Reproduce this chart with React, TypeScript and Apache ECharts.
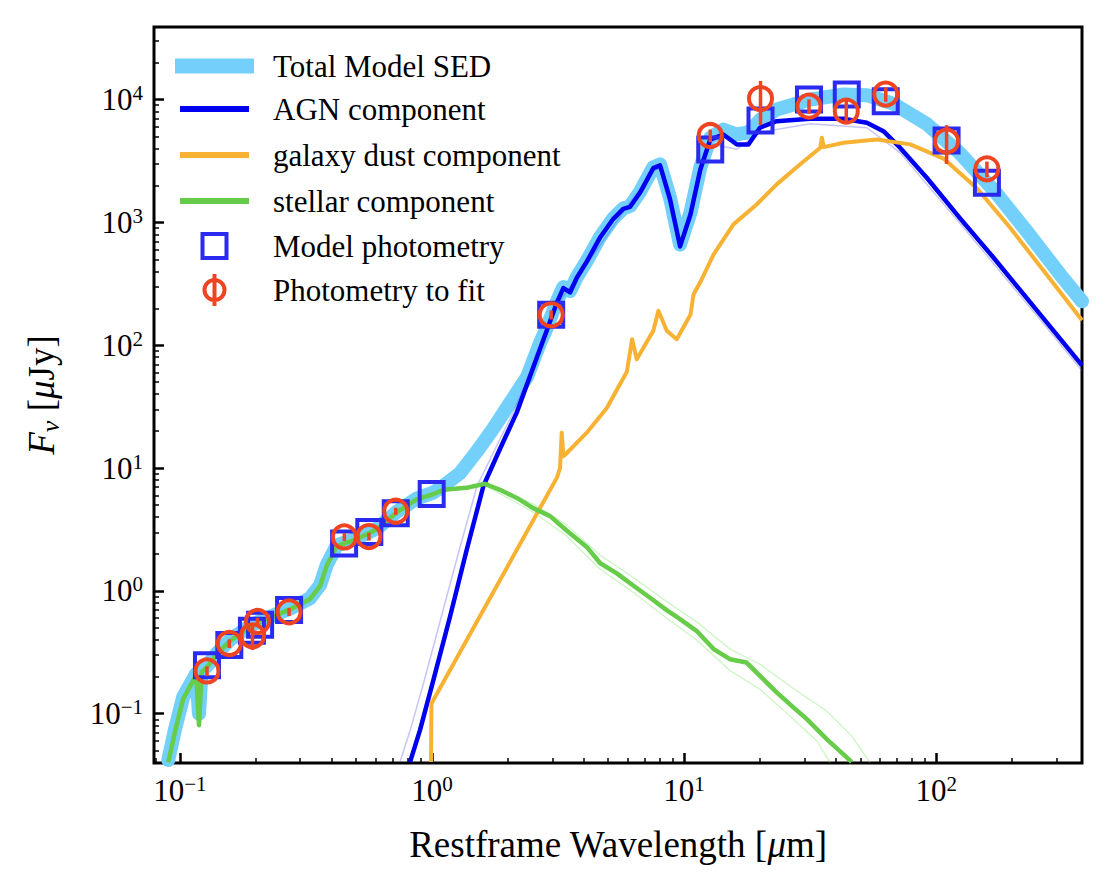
import React, { useEffect, useRef } from 'react';
import * as echarts from 'echarts';

const SERIF = '"Liberation Serif", "Times New Roman", Times, serif';

// ---- axis ranges (wavelength in μm, flux in μJy) ----
const xRange = [0.0789, 379];
const yRange = [0.0397, 39000];
const xMajor = [0.1, 1, 10, 100];
const yMajor = [0.1, 1, 10, 100, 1000, 10000];

// ---- Total model SED ----
const totalWl = [0.0899, 0.0955, 0.103, 0.108, 0.116, 0.119, 0.122, 0.129, 0.14, 0.158, 0.19, 0.221, 0.274, 0.328, 0.36, 0.382, 0.419, 0.502, 0.604, 0.724, 0.869, 1.01, 1.11, 1.29, 1.5, 1.75, 2.04, 2.38, 2.68, 2.85, 3.13, 3.32, 3.53, 3.75, 4.11, 4.65, 5.24, 5.74, 6.11, 6.69, 7.55, 8.03, 8.8, 9.64, 10.6, 11.6, 12.7, 14.3, 16.2, 18.0, 20.1, 23.3, 31.6, 42.9, 53.1, 67.8, 91.8, 124, 169, 229, 310, 379];
const totalF = [0.042, 0.074, 0.137, 0.163, 0.212, 0.1, 0.224, 0.25, 0.31, 0.4, 0.52, 0.6, 0.72, 0.87, 1.12, 1.62, 2.35, 2.68, 3.22, 4.4, 5.65, 6.3, 7.18, 9.07, 13.5, 21, 34, 55, 104, 138, 228, 298, 276, 358, 485, 765, 1080, 1300, 1360, 1780, 2820, 2970, 1580, 660, 1200, 2800, 4900, 5700, 5200, 5400, 6890, 8300, 10000, 11000, 10860, 9230, 6340, 3680, 1840, 845, 378, 228];

// ---- AGN component ----
const agnWl = [0.818, 0.896, 1.01, 1.18, 1.37, 1.6, 1.86, 2.17, 2.52, 2.85, 3.13, 3.32, 3.53, 3.75, 4.11, 4.65, 5.24, 5.74, 6.11, 6.69, 7.55, 8.03, 8.8, 9.64, 10.6, 11.6, 12.7, 14.3, 16.2, 18.0, 20.0, 23.3, 31.6, 42.9, 53.1, 61.8, 71.9, 91.8, 124, 169, 275, 379];
const agnF = [0.0404, 0.0736, 0.184, 0.622, 2.12, 7.18, 14.3, 28.4, 65.8, 131, 223, 292, 270, 353, 479, 758, 1070, 1290, 1340, 1750, 2770, 2910, 1540, 638, 1160, 2700, 4730, 5200, 4310, 4310, 5900, 6670, 6980, 6980, 6480, 5530, 4060, 2310, 1090, 516, 153, 68.6];
const agnFaintWl = [0.746, 0.82, 0.93, 1.09, 1.28, 1.51, 1.78, 2.1, 2.5, 2.85, 3.13, 4.11, 5.74, 7.55, 8.03, 9.64, 11.6, 12.7, 16.2, 20.0, 31.6, 53.1, 71.9, 124, 275, 379];
const agnFaintF = [0.0404, 0.0736, 0.184, 0.622, 2.12, 7.18, 14.3, 28.4, 65.8, 125, 212, 455, 1220, 2630, 2760, 600, 2500, 4350, 3950, 5400, 6350, 5900, 3700, 990, 139, 62];

// ---- galaxy dust component ----
const dustWl = [0.991, 0.995, 3.13, 3.22, 3.27, 3.32, 3.42, 4.11, 4.93, 5.93, 6.22, 6.49, 7.55, 7.91, 8.54, 9.35, 10.6, 10.9, 11.6, 13.1, 15.7, 19.4, 23.3, 28.8, 34.7, 35.2, 35.8, 42.9, 58.2, 78.9, 107, 145, 197, 267, 379];
const dustF = [0.0404, 0.121, 8.36, 10, 19.4, 12.5, 13.2, 19.4, 30.7, 60.8, 112, 76.8, 131, 191, 131, 112, 177, 259, 327, 549, 964, 1400, 2040, 2960, 4050, 4890, 4100, 4450, 4730, 4320, 3310, 1900, 900, 404, 160];

// ---- stellar component ----
const stellarWl = [0.0899, 0.0955, 0.103, 0.108, 0.116, 0.119, 0.122, 0.129, 0.14, 0.158, 0.19, 0.221, 0.274, 0.328, 0.36, 0.382, 0.419, 0.502, 0.604, 0.724, 0.869, 1.01, 1.11, 1.37, 1.62, 1.86, 2.17, 2.52, 2.94, 3.42, 4.11, 4.65, 5.41, 6.3, 7.33, 8.53, 9.64, 11.2, 13.1, 15.2, 17.7, 20.0, 23.3, 27.2, 30.7, 36.8, 46.2];
const stellarF = [0.0402, 0.0708, 0.132, 0.158, 0.206, 0.0807, 0.218, 0.244, 0.305, 0.392, 0.507, 0.589, 0.71, 0.857, 1.1, 1.6, 2.32, 2.64, 3.18, 4.35, 5.57, 6.12, 6.65, 6.9, 7.45, 6.65, 5.71, 4.72, 4.06, 3.1, 2.28, 1.68, 1.39, 1.1, 0.879, 0.697, 0.589, 0.473, 0.336, 0.278, 0.261, 0.203, 0.149, 0.112, 0.0904, 0.0621, 0.0406];
const stellarUpWl = [1.62, 2.52, 3.42, 4.65, 6.3, 8.53, 11.2, 15.2, 20.0, 27.2, 36.8, 46.2, 54.7];
const stellarUpF = [7.6, 5.1, 3.45, 1.95, 1.28, 0.82, 0.56, 0.336, 0.253, 0.16, 0.105, 0.066, 0.04];
const stellarLoWl = [1.62, 2.52, 3.42, 4.65, 6.3, 8.53, 11.2, 15.2, 20.0, 27.2, 33.6, 38.0];
const stellarLoF = [7.2, 4.4, 2.8, 1.5, 0.97, 0.6, 0.4, 0.225, 0.158, 0.09, 0.06, 0.04];

// ---- photometry ----
const modelWl = [0.128, 0.157, 0.193, 0.208, 0.271, 0.448, 0.564, 0.718, 0.997, 2.97, 12.7, 20.1, 31.3, 44.2, 63.1, 110, 159];
const modelF = [0.248, 0.362, 0.473, 0.529, 0.7, 2.43, 3.02, 4.29, 6.15, 177, 3930, 6760, 10000, 11000, 9700, 4650, 2100];
const photWl = [0.128, 0.157, 0.194, 0.203, 0.271, 0.449, 0.562, 0.718, 2.97, 12.7, 20.1, 31.3, 44.0, 63.1, 110, 159];
const photF = [0.223, 0.373, 0.431, 0.564, 0.675, 2.75, 2.77, 4.45, 177, 5100, 10200, 8840, 8050, 11100, 4590, 2730];
const photErr = [0.02, 0.03, 0.1, 0.04, 0.05, 0.2, 0.2, 0.3, 15, 600, 4000, 1200, 1700, 1500, 1600, 400];

const C_TOTAL = '#72d0fa';
const C_AGN = '#0000f0';
const C_DUST = '#f7b234';
const C_STAR = '#66cc4a';
const C_SQ = '#2a2af0';
const C_PH = '#ee4422';

const L = Math.log10;
const toPairs = (xs: number[], ys: number[]) => xs.map((x, i) => [L(x), L(ys[i])]);
const minorTicks = (lo: number, hi: number) => {
  const out: number[] = [];
  for (let e = -3; e <= 5; e++) {
    for (let k = 2; k <= 9; k++) {
      const v = k * Math.pow(10, e);
      if (v > lo && v < hi) out.push(L(v));
    }
  }
  return out;
};
const powLabel = (v: number) => {
  const e = Math.round(v);
  return `{b|10}{s|${e < 0 ? '\u2212' + -e : e}}`;
};
const labelRich = {
  b: { fontFamily: SERIF, fontSize: 31, lineHeight: 34, color: '#000' },
  s: { fontFamily: SERIF, fontSize: 21, lineHeight: 18, verticalAlign: 'top', color: '#000' },
};

const ICON_BOX = 'M0,-16 M83,16 ';

export default function App() {
  const ref = useRef<HTMLDivElement>(null);
  useEffect(() => {
    if (!ref.current) return;
    const chart = echarts.init(ref.current, undefined, { renderer: 'svg' });
    const xMin = L(xRange[0]);
    const xMax = L(xRange[1]);
    const yMin = L(yRange[0]);
    const yMax = L(yRange[1]);
    const baseAxis = {
      type: 'value',
      splitLine: { show: false },
      axisLine: { show: false, onZero: false },
    };
    const option: any = {
      animation: false,
      textStyle: { fontFamily: SERIF },
      grid: {
        left: 154, top: 27, width: 928, height: 736,
        show: true, borderColor: '#000', borderWidth: 3, backgroundColor: 'transparent',
      },
      legend: {
        orient: 'vertical', left: 170, top: 50, padding: 0,
        itemWidth: 83, itemHeight: 32, itemGap: 8, selectedMode: false,
        textStyle: { fontFamily: SERIF, fontSize: 31, color: '#000', lineHeight: 32, padding: [0, 0, 0, 12] },
        data: [
          { name: 'Total Model SED', icon: 'path://' + ICON_BOX + 'M2,-7.5 L81,-7.5 L81,7.5 L2,7.5 Z', itemStyle: { color: C_TOTAL, borderWidth: 0 } },
          { name: 'AGN component', icon: 'path://' + ICON_BOX + 'M7,0 L76,0', itemStyle: { color: 'rgba(0,0,0,0)', borderColor: C_AGN, borderWidth: 6 } },
          { name: 'galaxy dust component', icon: 'path://' + ICON_BOX + 'M7,0 L76,0', itemStyle: { color: 'rgba(0,0,0,0)', borderColor: C_DUST, borderWidth: 6 } },
          { name: 'stellar component', icon: 'path://' + ICON_BOX + 'M7,0 L76,0', itemStyle: { color: 'rgba(0,0,0,0)', borderColor: C_STAR, borderWidth: 6 } },
          { name: 'Model photometry', icon: 'path://' + ICON_BOX + 'M29.5,-12 L53.5,-12 L53.5,12 L29.5,12 Z', itemStyle: { color: 'rgba(0,0,0,0)', borderColor: C_SQ, borderWidth: 4 } },
          { name: 'Photometry to fit', icon: 'path://' + ICON_BOX + 'M41.5,-16 L41.5,16 M51.5,0 A10,10 0 1 1 31.5,0 A10,10 0 1 1 51.5,0 Z', itemStyle: { color: 'rgba(0,0,0,0)', borderColor: C_PH, borderWidth: 4 } },
        ],
      },
      xAxis: [
        {
          ...baseAxis, min: xMin, max: xMax, position: 'bottom',
          axisTick: { show: true, inside: true, length: 10, lineStyle: { color: '#000', width: 2.5 }, customValues: xMajor.map(L) },
          axisLabel: { show: true, margin: 10, customValues: xMajor.map(L), formatter: powLabel, rich: labelRich },
          name: '{n|Restframe Wavelength [}{i|\u03bc}{n|m]}',
          nameLocation: 'middle', nameGap: 61,
          nameTextStyle: {
            rich: {
              n: { fontFamily: SERIF, fontSize: 37, lineHeight: 40, color: '#000' },
              i: { fontFamily: SERIF, fontSize: 37, lineHeight: 40, fontStyle: 'italic', color: '#000' },
            },
          },
        },
        {
          ...baseAxis, min: xMin, max: xMax, position: 'bottom',
          axisTick: { show: true, inside: true, length: 5, lineStyle: { color: '#000', width: 1.5 }, customValues: minorTicks(xRange[0], xRange[1]) },
          axisLabel: { show: false },
        },
      ],
      yAxis: [
        {
          ...baseAxis, min: yMin, max: yMax, position: 'left',
          axisTick: { show: true, inside: true, length: 10, lineStyle: { color: '#000', width: 2.5 }, customValues: yMajor.map(L) },
          axisLabel: { show: true, margin: 11, customValues: yMajor.map(L), formatter: powLabel, rich: labelRich },
          name: '{i|F}{sub|\u03bd}{n| [}{i|\u03bc}{n|Jy]}',
          nameLocation: 'middle', nameGap: 91, nameRotate: 90,
          nameTextStyle: {
            rich: {
              n: { fontFamily: SERIF, fontSize: 37, lineHeight: 44, color: '#000' },
              i: { fontFamily: SERIF, fontSize: 37, lineHeight: 44, fontStyle: 'italic', color: '#000' },
              sub: { fontFamily: SERIF, fontSize: 26, lineHeight: 22, fontStyle: 'italic', verticalAlign: 'bottom', color: '#000' },
            },
          },
        },
        {
          ...baseAxis, min: yMin, max: yMax, position: 'left',
          axisTick: { show: true, inside: true, length: 5, lineStyle: { color: '#000', width: 1.5 }, customValues: minorTicks(yRange[0], yRange[1]) },
          axisLabel: { show: false },
        },
      ],
      series: [
        {
          name: 'Total Model SED', type: 'line', data: toPairs(totalWl, totalF), symbol: 'none', z: 1,
          lineStyle: { color: C_TOTAL, width: 14, join: 'round', cap: 'round' }, itemStyle: { color: C_TOTAL }, silent: true,
        },
        {
          name: 'agnFaint', type: 'line', data: toPairs(agnFaintWl, agnFaintF), symbol: 'none', z: 2,
          lineStyle: { color: 'rgba(90,90,235,0.35)', width: 1.5 }, silent: true,
        },
        {
          name: 'stellarUp', type: 'line', data: toPairs(stellarUpWl, stellarUpF), symbol: 'none', z: 2,
          lineStyle: { color: 'rgba(120,230,100,0.4)', width: 1.2 }, silent: true,
        },
        {
          name: 'stellarLo', type: 'line', data: toPairs(stellarLoWl, stellarLoF), symbol: 'none', z: 2,
          lineStyle: { color: 'rgba(120,230,100,0.4)', width: 1.2 }, silent: true,
        },
        {
          name: 'AGN component', type: 'line', data: toPairs(agnWl, agnF), symbol: 'none', z: 3,
          lineStyle: { color: C_AGN, width: 4.5, join: 'round' }, itemStyle: { color: C_AGN }, silent: true,
        },
        {
          name: 'galaxy dust component', type: 'line', data: toPairs(dustWl, dustF), symbol: 'none', z: 3,
          lineStyle: { color: C_DUST, width: 4, join: 'round' }, itemStyle: { color: C_DUST }, silent: true,
        },
        {
          name: 'stellar component', type: 'line', data: toPairs(stellarWl, stellarF), symbol: 'none', z: 3,
          lineStyle: { color: C_STAR, width: 4.5, join: 'round' }, itemStyle: { color: C_STAR }, silent: true,
        },
        {
          name: 'Model photometry', type: 'scatter', data: toPairs(modelWl, modelF), symbol: 'rect', symbolSize: 24, z: 5,
          itemStyle: { color: 'rgba(0,0,0,0)', borderColor: C_SQ, borderWidth: 4, opacity: 1 }, silent: true,
        },
        {
          name: 'errorbars', type: 'custom', z: 6, silent: true,
          data: photWl.map((w, i) => [L(w), L(photF[i] - photErr[i]), L(photF[i] + photErr[i])]),
          encode: { x: 0, y: [1, 2] },
          renderItem: (_p: any, api: any) => {
            const a = api.coord([api.value(0), api.value(1)]);
            const b = api.coord([api.value(0), api.value(2)]);
            return {
              type: 'line',
              shape: { x1: a[0], y1: a[1], x2: b[0], y2: b[1] },
              style: { stroke: C_PH, lineWidth: 3.5 },
            };
          },
        },
        {
          name: 'Photometry to fit', type: 'scatter', data: toPairs(photWl, photF), symbol: 'circle', symbolSize: 23, z: 7,
          itemStyle: { color: 'rgba(0,0,0,0)', borderColor: C_PH, borderWidth: 4, opacity: 1 }, silent: true,
        },
      ],
    };
    chart.setOption(option);
    return () => chart.dispose();
  }, []);
  return <div ref={ref} style={{ position: 'fixed', left: 0, top: 0, width: 1116, height: 883, background: '#fff' }} />;
}
